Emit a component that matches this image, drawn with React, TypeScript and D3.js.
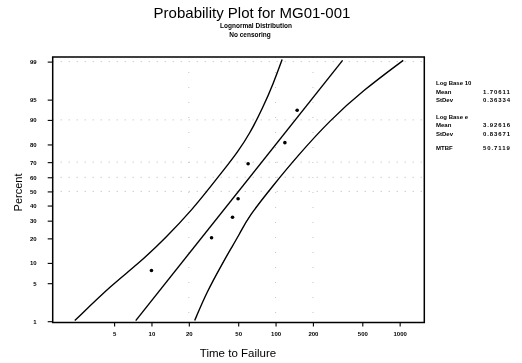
import React, { useEffect, useRef } from "react";
import * as d3 from "d3";

// failure times and plotted percents
const failTimes = [10.0, 30.5, 45.0, 49.9, 60.1, 118.9, 149.3];
const failPercents = [7.8, 20.3, 32.2, 44.8, 69.0, 80.9, 92.7];

// fitted line (two ends)
const fitTimes = [7.47, 347];
const fitPercents = [1.03, 99.06];

// lower time bound (left curve)
const lowerTimes = [2.41, 4.9, 7.57, 13.2, 21.6, 30.5, 42.8, 48.4, 62.1, 79.5, 95.7, 113];
const lowerPercents = [1.03, 4.9, 9.2, 20.6, 37.8, 54.3, 70.0, 75.1, 85.0, 93.5, 97.3, 99.1];

// upper time bound (right curve)
const upperTimes = [22.3, 27.8, 37.8, 42.8, 51.5, 60.1, 95.7, 147.6, 274, 508, 1069];
const upperPercents = [1.03, 3.54, 10.2, 14.5, 22.4, 32.2, 54.3, 73.1, 89.9, 96.5, 99.06];

const percentTicks = [1, 5, 10, 20, 30, 40, 50, 60, 70, 80, 90, 95, 99];
const timeTicks = [5, 10, 20, 50, 100, 200, 500, 1000];
const gridPercents = [99, 90, 70, 60, 50];
const gridTimes = [20, 100, 200];

const statLabels = ["Log Base 10", "Mean", "StDev", "Log Base e", "Mean", "StDev", "MTBF"];
const statValues = ["", "1.70611", "0.36334", "", "3.92616", "0.83671", "50.7119"];
const statRows = [85, 93.5, 101.5, 118.5, 127, 135.5, 149.5];

// inverse standard normal CDF (Acklam)
function probit(p: number): number {
  const a = [-39.69683028665376, 220.9460984245205, -275.9285104469687, 138.357751867269, -30.66479806614716, 2.506628277459239];
  const b = [-54.47609879822406, 161.5858368580409, -155.6989798598866, 66.80131188771972, -13.28068155288853];
  const c = [-0.007784894002430293, -0.3223964580411365, -2.400758277161838, -2.549732539343734, 4.374664141464968, 2.938163982698783];
  const d = [0.007784695709041462, 0.3224671290700398, 2.445134137142996, 3.754408661907416];
  const pl = 0.02425;
  if (p < pl) {
    const q = Math.sqrt(-2 * Math.log(p));
    return (((((c[0] * q + c[1]) * q + c[2]) * q + c[3]) * q + c[4]) * q + c[5]) /
      ((((d[0] * q + d[1]) * q + d[2]) * q + d[3]) * q + 1);
  }
  if (p <= 1 - pl) {
    const q = p - 0.5, r = q * q;
    return (((((a[0] * r + a[1]) * r + a[2]) * r + a[3]) * r + a[4]) * r + a[5]) * q /
      (((((b[0] * r + b[1]) * r + b[2]) * r + b[3]) * r + b[4]) * r + 1);
  }
  const q = Math.sqrt(-2 * Math.log(1 - p));
  return -(((((c[0] * q + c[1]) * q + c[2]) * q + c[3]) * q + c[4]) * q + c[5]) /
    ((((d[0] * q + d[1]) * q + d[2]) * q + d[3]) * q + 1);
}

const App = () => {
  const svgRef = useRef<SVGSVGElement>(null);
  const width = 522, height = 363;
  const left = 52.7, right = 424.3, top = 57, bottom = 322.5;

  useEffect(() => {
    const svg = d3.select(svgRef.current);
    svg.selectAll("*").remove();

    const x = d3.scaleLog().domain([1.6, 1580]).range([left, right]);
    const zScale = d3.scaleLinear().domain([probit(0.0094), probit(0.992)]).range([bottom, top]);
    const y = (pct: number) => zScale(probit(pct / 100));

    const font = "'Liberation Sans', Arial, sans-serif";

    // gridlines
    svg.append("g").selectAll("line").data(gridPercents).join("line")
      .attr("x1", left).attr("x2", right)
      .attr("y1", d => y(d)).attr("y2", d => y(d))
      .attr("stroke", "#999").attr("stroke-width", 0.7)
      .attr("stroke-dasharray", "1,7");
    svg.append("g").selectAll("line").data(gridTimes).join("line")
      .attr("x1", d => x(d)).attr("x2", d => x(d))
      .attr("y1", top).attr("y2", bottom)
      .attr("stroke", "#aaa").attr("stroke-width", 0.7)
      .attr("stroke-dasharray", "1,14");

    // axes
    const yAxis = d3.axisLeft(zScale)
      .tickValues(percentTicks.map(p => probit(p / 100)))
      .tickFormat((_, i) => String(percentTicks[i]))
      .tickSize(5).tickPadding(11);
    const gy = svg.append("g").attr("transform", `translate(${left},0)`).call(yAxis);
    const xAxis = d3.axisBottom(x).tickValues(timeTicks)
      .tickFormat(d => String(d)).tickSize(4).tickPadding(5);
    const gx = svg.append("g").attr("transform", `translate(0,${bottom})`).call(xAxis);
    [gy, gx].forEach(g => {
      g.select(".domain").remove();
      g.selectAll("line").attr("stroke", "#000").attr("stroke-width", 1.1);
      g.selectAll("text").style("font-family", font).style("font-size", "6px")
        .style("font-weight", "bold").attr("fill", "#000");
    });

    // frame
    svg.append("rect")
      .attr("x", left).attr("y", top)
      .attr("width", right - left).attr("height", bottom - top)
      .attr("fill", "none").attr("stroke", "#000").attr("stroke-width", 1.5);

    // lines
    const curve = (ts: number[], ps: number[]) =>
      d3.line<number>().x(i => x(ts[i])).y(i => y(ps[i])).curve(d3.curveBasis)(d3.range(ts.length));
    [[lowerTimes, lowerPercents], [fitTimes, fitPercents], [upperTimes, upperPercents]].forEach(([ts, ps]) => {
      svg.append("path").attr("d", curve(ts, ps))
        .attr("fill", "none").attr("stroke", "#000").attr("stroke-width", 1.4);
    });

    // points
    svg.append("g").selectAll("circle").data(failTimes).join("circle")
      .attr("cx", d => x(d)).attr("cy", (_, i) => y(failPercents[i]))
      .attr("r", 1.8).attr("fill", "#000");

    // titles
    svg.append("text").attr("x", 252).attr("y", 18.3).attr("text-anchor", "middle")
      .style("font-family", font).style("font-size", "15px").text("Probability Plot for MG01-001");
    svg.append("text").attr("x", 256).attr("y", 28.3).attr("text-anchor", "middle")
      .style("font-family", font).style("font-size", "6.5px").style("font-weight", "bold")
      .text("Lognormal Distribution");
    svg.append("text").attr("x", 250).attr("y", 36.7).attr("text-anchor", "middle")
      .style("font-family", font).style("font-size", "6.5px").style("font-weight", "bold")
      .text("No censoring");
    svg.append("text").attr("x", 238).attr("y", 357).attr("text-anchor", "middle")
      .style("font-family", font).style("font-size", "11.5px").text("Time to Failure");
    svg.append("text").attr("transform", "translate(22,192.5) rotate(-90)").attr("text-anchor", "middle")
      .style("font-family", font).style("font-size", "11px").text("Percent");

    // stats panel
    statLabels.forEach((lab, i) => {
      svg.append("text").attr("x", 436).attr("y", statRows[i])
        .style("font-family", font).style("font-size", "6px").style("font-weight", "bold")
        .text(lab);
      if (statValues[i]) {
        svg.append("text").attr("x", 483).attr("y", statRows[i])
          .style("font-family", font).style("font-size", "6px").style("font-weight", "bold")
          .style("letter-spacing", "0.9px").text(statValues[i]);
      }
    });
  }, []);

  return (
    <svg ref={svgRef} width={width} height={height}
      style={{ position: "absolute", left: 0, top: 0, background: "#fff", willChange: "transform" }} />
  );
};

export default App;
